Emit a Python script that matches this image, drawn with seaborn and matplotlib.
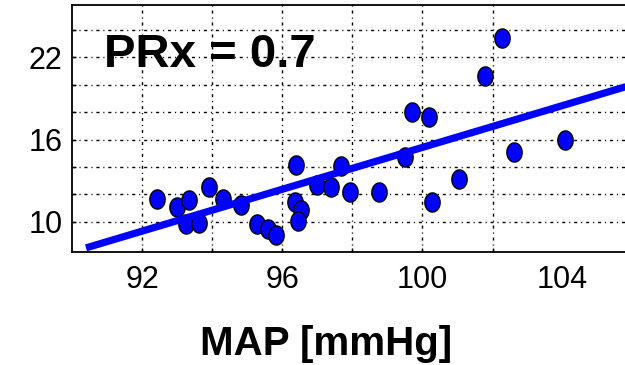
import numpy as np
import pandas as pd
import matplotlib
matplotlib.use("Agg")
import matplotlib.pyplot as plt
from matplotlib.ticker import FixedLocator, FixedFormatter
import seaborn as sns

# ---- data ----
map_mmhg = [92.42, 93.00, 93.35, 93.24, 93.62, 93.92, 94.32, 94.83, 95.28, 95.59,
            95.83, 96.40, 96.35, 96.54, 96.45, 97.00, 97.40, 97.69, 97.94, 98.77,
            99.49, 99.69, 100.19, 100.28, 101.05, 101.79, 102.28, 102.62, 104.07]
icp = [11.68, 11.10, 11.55, 9.82, 9.90, 12.50, 11.65, 11.22, 9.85, 9.45,
       9.03, 14.14, 11.40, 10.85, 10.06, 12.68, 12.50, 14.08, 12.13, 12.19,
       14.74, 18.00, 17.65, 11.40, 13.13, 20.65, 23.45, 15.07, 15.96]
fit_x = [90.4, 105.8]
fit_y = [8.08, 19.86]
x_major = [92, 96, 100, 104]
x_minor = [92, 94, 96, 98, 100, 102]
y_major = [10, 16, 22]
y_minor = [10, 12, 14, 16, 18, 20, 22, 24]
annotation = "PRx = 0.7"
x_label = "MAP [mmHg]"

pts = pd.DataFrame({"MAP": map_mmhg, "ICP": icp})
fit = pd.DataFrame({"MAP": fit_x, "ICP": fit_y})

sns.set_theme(style="white")
plt.rcParams["font.family"] = ["Liberation Sans", "DejaVu Sans"]
plt.rcParams["text.color"] = "black"
plt.rcParams["axes.labelcolor"] = "black"
plt.rcParams["xtick.color"] = "black"
plt.rcParams["ytick.color"] = "black"

fig = plt.figure(figsize=(6.25, 3.65), dpi=100)
ax = fig.add_axes([72 / 625, 113 / 365, 553 / 625, 247 / 365])

t = np.linspace(0, 2 * np.pi, 40)
ell = list(zip(0.8 * np.cos(t), np.sin(t)))

sns.scatterplot(data=pts, x="MAP", y="ICP", ax=ax, marker=ell, s=190,
                color="#0000ff", edgecolor="black", linewidth=1.0, zorder=3)
sns.lineplot(data=fit, x="MAP", y="ICP", ax=ax, sort=False, color="#0000ff",
             linewidth=5.2, zorder=4, solid_capstyle="butt")

ax.set_xlim(90, 105.78)
ax.set_ylim(7.78, 25.83)

ax.xaxis.remove_overlapping_locs = False
ax.yaxis.remove_overlapping_locs = False
ax.xaxis.set_major_locator(FixedLocator(x_major))
ax.xaxis.set_major_formatter(FixedFormatter([str(v) for v in x_major]))
ax.xaxis.set_minor_locator(FixedLocator(x_minor))
ax.yaxis.set_major_locator(FixedLocator(y_major))
ax.yaxis.set_major_formatter(FixedFormatter([str(v) for v in y_major]))
ax.yaxis.set_minor_locator(FixedLocator(y_minor))

ax.tick_params(which="major", length=0, labelsize=22, colors="black",
               labelcolor="black")
ax.tick_params(axis="x", which="major", pad=9)
ax.tick_params(axis="y", which="major", pad=7)
ax.tick_params(which="minor", direction="in", length=3, width=1, color="black",
               left=True, bottom=True)

ax.grid(False)
ax.grid(True, which="minor", color="black", linewidth=1.0,
        linestyle=(0, (2.2, 2.8, 0.8, 2.8)))
ax.set_axisbelow(True)

for side in ["left", "top", "bottom"]:
    ax.spines[side].set_color("black")
    ax.spines[side].set_linewidth(1.3)
ax.spines["right"].set_visible(False)

ax.set_ylabel("")
ax.set_xlabel(x_label, fontsize=29, fontweight="bold", va="baseline",
              color="black")
ax.xaxis.set_label_coords((326 - 72) / 553, (252 - 355) / 247)

ax.text(0.057, 0.750, annotation, transform=ax.transAxes, fontsize=34,
        fontweight="bold", ha="left", va="baseline", zorder=5, color="black")

fig.savefig("out.png", dpi=100, facecolor="white")
